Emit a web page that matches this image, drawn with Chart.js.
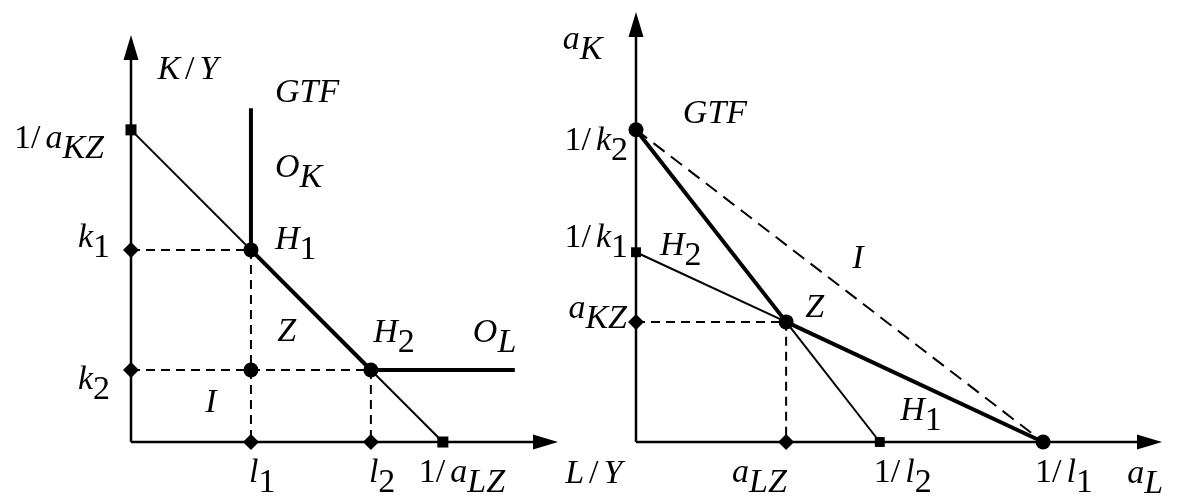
<!DOCTYPE html>
<html>
<head>
<meta charset="utf-8">
<script src="https://cdn.jsdelivr.net/npm/chart.js@4.4.1/dist/chart.umd.min.js"></script>
<style>
  html, body { margin: 0; padding: 0; background: #fff; }
  #wrap { position: relative; width: 1177px; height: 498px; }
  canvas { position: absolute; left: 0; top: 0; }
</style>
</head>
<body>
<div id="wrap">
  <canvas id="leftChart" width="1177" height="498"></canvas>
  <canvas id="rightChart" width="1177" height="498"></canvas>
</div>
<script>
// =========================
// LEFT PANEL (K/Y against L/Y)
// =========================
const leftLabour = [1.0, 2.0, 2.6];          // l1, l2, 1/aLZ
const leftLabourLabels = ["l_1", "l_2", "1/ a_LZ"];
const leftCapital = [1.6, 0.6, 2.6];         // k1, k2, 1/aKZ
const leftCapitalLabels = ["k_1", "k_2", "1/ a_KZ"];
const leftGtfTop = 2.78;
const leftOLEnd = 3.2;
const leftAxisMax = [3.56, 3.39];

// =========================
// RIGHT PANEL (aK against aL)
// =========================
const rightLabour = [1.25, 2.03, 3.39];      // aLZ, 1/l2, 1/l1
const rightLabourLabels = ["a_LZ", "1/ l_2", "1/ l_1"];
const rightCapital = [1.0, 1.58, 2.6];       // aKZ, 1/k1, 1/k2
const rightCapitalLabels = ["a_KZ", "1/ k_1", "1/ k_2"];
const rightAxisMax = [4.38, 3.58];

const black = "#000";
const textSize = 34;

// text with a lowered part after "_" (same size), letters italic
function drawRich(ctx, str, x, y, align) {
  const [main, sub] = str.split("_");
  const parts = [];
  for (const ch of main) parts.push({ ch, dy: 0 });
  if (sub) for (const ch of sub) parts.push({ ch, dy: 10 });

  const fontFor = p =>
    `${/[A-Za-z]/.test(p.ch) ? "italic " : ""}${textSize}px "Liberation Serif", "Times New Roman", serif`;

  let w = 0;
  parts.forEach(p => {
    ctx.font = fontFor(p);
    p.w = p.ch === " " ? 5 : ctx.measureText(p.ch).width;
    w += p.w;
  });

  let cx = align === "right" ? x - w : x;
  ctx.fillStyle = black;
  ctx.textBaseline = "alphabetic";
  ctx.textAlign = "left";
  parts.forEach(p => {
    ctx.font = fontFor(p);
    if (p.ch !== " ") ctx.fillText(p.ch, cx, y + p.dy);
    cx += p.w;
  });
}

// axes with arrow heads + all text
const diagramPlugin = {
  id: "diagram",
  beforeDatasetsDraw(chart, args, opts) {
    const { ctx, scales: { x, y } } = chart;
    const ox = x.getPixelForValue(0), oy = y.getPixelForValue(0);
    const tx = x.getPixelForValue(x.max), ty = y.getPixelForValue(y.max);
    const len = 25, half = 7.5;

    ctx.save();
    ctx.strokeStyle = black;
    ctx.fillStyle = black;
    ctx.lineWidth = 2.5;
    ctx.beginPath();
    ctx.moveTo(ox, oy);
    ctx.lineTo(tx - len + 2, oy);
    ctx.moveTo(ox, oy);
    ctx.lineTo(ox, ty + len - 2);
    ctx.stroke();

    ctx.beginPath();
    ctx.moveTo(tx, oy);
    ctx.lineTo(tx - len, oy - half);
    ctx.lineTo(tx - len, oy + half);
    ctx.closePath();
    ctx.fill();

    ctx.beginPath();
    ctx.moveTo(ox, ty);
    ctx.lineTo(ox - half, ty + len);
    ctx.lineTo(ox + half, ty + len);
    ctx.closePath();
    ctx.fill();
    ctx.restore();
  },
  afterDraw(chart, args, opts) {
    const { ctx, scales: { x, y } } = chart;
    const ox = x.getPixelForValue(0), oy = y.getPixelForValue(0);
    ctx.save();
    opts.xTicks.forEach((v, i) => {
      drawRich(ctx, opts.xTickLabels[i], x.getPixelForValue(v) + opts.xTickDx[i], oy + 40, "left");
    });
    opts.yTicks.forEach((v, i) => {
      drawRich(ctx, opts.yTickLabels[i], ox - opts.yTickGap[i], y.getPixelForValue(v) + opts.yTickDy[i], "right");
    });
    opts.notes.forEach(n => {
      drawRich(ctx, n.text, x.getPixelForValue(n.x), y.getPixelForValue(n.y), "left");
    });
    ctx.restore();
  }
};

function line(points, width, dash) {
  return {
    data: points,
    showLine: true,
    borderColor: black,
    borderWidth: width,
    borderDash: dash || [],
    pointRadius: 0,
    clip: false,
    order: 2
  };
}

function marks(points, style, radius) {
  return {
    data: points,
    showLine: false,
    pointStyle: style,
    pointRadius: radius,
    pointBackgroundColor: black,
    pointBorderColor: black,
    pointBorderWidth: 0,
    clip: false,
    order: 0
  };
}

function makeChart(id, datasets, axisMax, padding, labelOpts) {
  return new Chart(document.getElementById(id), {
    type: "scatter",
    data: { datasets },
    options: {
      responsive: false,
      animation: false,
      events: [],
      layout: { padding },
      scales: {
        x: { type: "linear", display: false, min: 0, max: axisMax[0] },
        y: { type: "linear", display: false, min: 0, max: axisMax[1] }
      },
      plugins: {
        legend: { display: false },
        tooltip: { enabled: false },
        diagram: labelOpts
      }
    },
    plugins: [diagramPlugin]
  });
}

// ---- left chart
const [l1, l2, invALZ] = leftLabour;
const [k1, k2, invAKZ] = leftCapital;

makeChart("leftChart", [
  line([{ x: 0, y: invAKZ }, { x: invALZ, y: 0 }], 2),
  line([{ x: l1, y: k1 }, { x: l2, y: k2 }], 4),
  line([{ x: l1, y: leftGtfTop }, { x: l1, y: k1 }], 4),
  line([{ x: l2, y: k2 }, { x: leftOLEnd, y: k2 }], 4),
  line([{ x: 0, y: k1 }, { x: l1, y: k1 }, { x: l1, y: 0 }], 2, [9, 6]),
  line([{ x: 0, y: k2 }, { x: l2, y: k2 }, { x: l2, y: 0 }], 2, [9, 6]),
  marks([{ x: l1, y: k1 }, { x: l2, y: k2 }, { x: l1, y: k2 }], "circle", 7.5),
  marks([{ x: 0, y: k1 }, { x: 0, y: k2 }, { x: l1, y: 0 }, { x: l2, y: 0 }], "rectRot", 8),
  marks([{ x: 0, y: invAKZ }, { x: invALZ, y: 0 }], "rect", 7.8)
], leftAxisMax, { left: 131, right: 619, top: 35, bottom: 56 }, {
  xTicks: leftLabour,
  xTickLabels: leftLabourLabels,
  xTickDx: [-2, -2, -24],
  yTicks: leftCapital,
  yTickLabels: leftCapitalLabels,
  yTickGap: [21, 21, 27],
  yTickDy: [-3, 19, 18],
  notes: [
    { text: "K / Y", x: 0.22, y: 3.02 },
    { text: "GTF", x: 1.2, y: 2.83 },
    { text: "O_K", x: 1.2, y: 2.21 },
    { text: "H_1", x: 1.2, y: 1.61 },
    { text: "Z", x: 1.22, y: 0.84 },
    { text: "H_2", x: 2.02, y: 0.83 },
    { text: "O_L", x: 2.85, y: 0.83 },
    { text: "I", x: 0.62, y: 0.25 },
    { text: "L / Y", x: 3.62, y: -0.34 }
  ]
});

// ---- right chart
const [aLZ, invL2, invL1] = rightLabour;
const [aKZ, invK1, invK2] = rightCapital;

makeChart("rightChart", [
  line([{ x: 0, y: invK2 }, { x: aLZ, y: aKZ }], 4),
  line([{ x: aLZ, y: aKZ }, { x: invL2, y: 0 }], 2),
  line([{ x: 0, y: invK1 }, { x: aLZ, y: aKZ }], 2),
  line([{ x: aLZ, y: aKZ }, { x: invL1, y: 0 }], 4),
  line([{ x: 0, y: invK2 }, { x: invL1, y: 0 }], 2, [14, 8]),
  line([{ x: 0, y: aKZ }, { x: aLZ, y: aKZ }, { x: aLZ, y: 0 }], 2, [9, 6]),
  marks([{ x: 0, y: invK2 }, { x: aLZ, y: aKZ }, { x: invL1, y: 0 }], "circle", 7.5),
  marks([{ x: 0, y: invK1 }, { x: invL2, y: 0 }], "rect", 7),
  marks([{ x: 0, y: aKZ }, { x: aLZ, y: 0 }], "rectRot", 8)
], rightAxisMax, { left: 636, right: 15, top: 12, bottom: 56 }, {
  xTicks: rightLabour,
  xTickLabels: rightLabourLabels,
  xTickDx: [-54, -6, -8],
  yTicks: rightCapital,
  yTickLabels: rightCapitalLabels,
  yTickGap: [9, 8, 8],
  yTickDy: [-4, -5, 20],
  notes: [
    { text: "a_K", x: -0.61, y: 3.27 },
    { text: "GTF", x: 0.39, y: 2.66 },
    { text: "H_2", x: 0.2, y: 1.56 },
    { text: "I", x: 1.8, y: 1.45 },
    { text: "Z", x: 1.41, y: 1.04 },
    { text: "H_1", x: 2.2, y: 0.18 },
    { text: "a_L", x: 4.09, y: -0.34 }
  ]
});
</script>
</body>
</html>
